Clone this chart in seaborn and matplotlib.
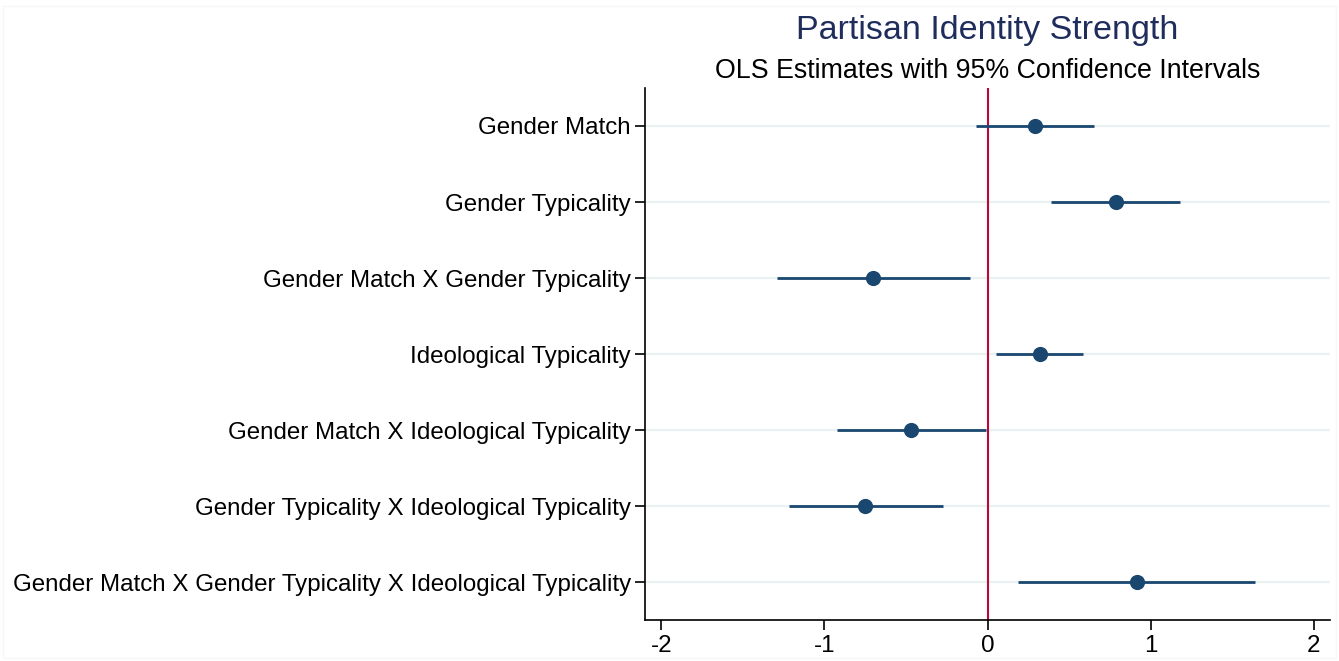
import matplotlib
matplotlib.use("Agg")
import matplotlib.pyplot as plt
from matplotlib.patches import Rectangle
import seaborn as sns
import pandas as pd

terms = [
    "Gender Match",
    "Gender Typicality",
    "Gender Match X Gender Typicality",
    "Ideological Typicality",
    "Gender Match X Ideological Typicality",
    "Gender Typicality X Ideological Typicality",
    "Gender Match X Gender Typicality X Ideological Typicality",
]
estimates = [0.29, 0.79, -0.70, 0.32, -0.47, -0.75, 0.915]
ci_low = [-0.07, 0.39, -1.29, 0.055, -0.92, -1.22, 0.19]
ci_high = [0.65, 1.18, -0.105, 0.585, -0.01, -0.27, 1.64]
xticks = [-2, -1, 0, 1, 2]

df = pd.DataFrame({"term": terms, "est": estimates, "lo": ci_low, "hi": ci_high})
df["pos"] = range(len(terms))

sns.set_theme(style="white")
plt.rcParams["font.family"] = ["Liberation Sans", "DejaVu Sans"]

fig = plt.figure(figsize=(13.39, 6.61), dpi=100)
fig.patches.append(Rectangle((3/1339, 3/661), 1333/1339, 652/661, transform=fig.transFigure,
                             fill=False, edgecolor="#f7f7f7", lw=1.0))
ax = fig.add_axes([645/1339, 1 - 620/661, (1330-645)/1339, (620-88)/661])

navy = "#1a476f"
for y in df["pos"]:
    ax.axhline(y, color="#eaf1f3", lw=1.6, zorder=0)
ax.axvline(0, color="#c10534", lw=1.5, zorder=1)
ax.hlines(df["pos"], df["lo"], df["hi"], color=navy, lw=2, zorder=2)
sns.scatterplot(data=df, x="est", y="pos", ax=ax, color=navy, s=120,
                edgecolor=navy, linewidth=0, zorder=3, legend=False)

ax.set_xlim(-2.1, 2.1)
ax.set_ylim(6.5, -0.5)
ax.set_yticks(df["pos"])
ax.set_yticklabels(terms)
ax.set_xticks(xticks)
ax.set_xticklabels([str(t) for t in xticks])
ax.set_xlabel("")
ax.set_ylabel("")
for s in ["top", "right"]:
    ax.spines[s].set_visible(False)
for s in ["left", "bottom"]:
    ax.spines[s].set_color("black")
    ax.spines[s].set_linewidth(1.2)
ax.tick_params(axis="both", which="both", direction="out", length=7, width=1.2,
               color="black", labelsize=17.4, labelcolor="black", left=True, bottom=True)
ax.tick_params(axis="y", pad=3)
ax.tick_params(axis="x", pad=4)

cx = (645 + 1330) / 2 / 1339
fig.text(cx, 1 - 31/661, "Partisan Identity Strength", ha="center", va="center",
         fontsize=24.5, color="#1f2d5c")
fig.text(cx, 1 - 71/661, "OLS Estimates with 95% Confidence Intervals", ha="center",
         va="center", fontsize=19.3, color="black")

fig.savefig("out.png", dpi=100)
